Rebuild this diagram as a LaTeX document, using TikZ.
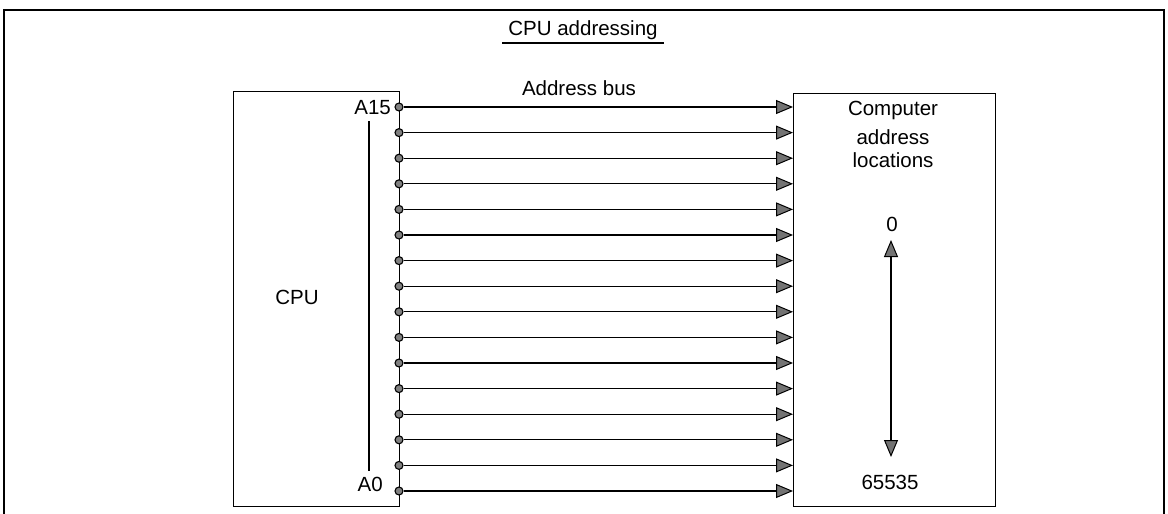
\documentclass[tikz,border=0pt]{standalone}
\usepackage{fontspec}
\setmainfont{Liberation Sans}
\usetikzlibrary{arrows.meta}
\begin{document}
\begin{tikzpicture}[x=1pt,y=-1pt,
  txt/.style={font=\fontsize{20.5}{24}\selectfont, inner sep=0pt},
  box/.style={draw, line width=1.4pt, inner sep=0pt, anchor=north west},
  pinc/.style={circle, draw, line width=1.1pt, fill=black!50, minimum size=8pt, inner sep=0pt},
  tipg/.tip={Triangle[length=17pt,width=14pt,fill=black!55,line width=1pt]},
  bus/.style={line width=1.3pt, -tipg},
  frame/.style={line width=1.6pt}]
\useasboundingbox (0,0) rectangle (1168,514);
% outer frame (open at the bottom)
\draw[frame] (4,514) -- (4,10) -- (1164,10) -- (1164,514);
% title
\node[txt, anchor=base] (title) at (583,35.5) {CPU addressing};
\draw[line width=1.3pt] ([xshift=-6pt,yshift=-7.5pt]title.base west) -- ([xshift=6pt,yshift=-7.5pt]title.base east);
\node[txt, anchor=base] (bus) at (579,95) {Address bus};
% CPU box
\node[box, minimum width=166pt, minimum height=415pt] (cpu) at (233,91) {};
\node[txt, anchor=base] (cpulbl) at (297,304.5) {CPU};
\node[txt, anchor=base east] (a15) at (391,114.5) {A15};
\node[txt, anchor=base east] (a0) at (383,491.5) {A0};
\coordinate (v1) at (369,121);
\coordinate (v2) at (369,471);
\draw[line width=1.3pt] (v1) -- (v2);
% memory box
\node[box, minimum width=202pt, minimum height=413pt] (mem) at (793,93) {};
\node[txt, anchor=base] (l1) at (893,115.5) {Computer};
\node[txt, anchor=base] (l2) at (893,144.5) {address};
\node[txt, anchor=base] (l3) at (893,167) {locations};
\node[txt, anchor=base] (zero) at (892,231.5) {0};
\node[txt, anchor=base] (last) at (890,489.5) {65535};
\coordinate (rtop) at (891,240);
\coordinate (rbot) at (891,457);
\draw[line width=1.4pt, tipg-tipg] (rtop) -- (rbot);
% bus lines
\foreach \i in {0,...,15} {
  \pgfmathsetmacro\yy{491-25.6*\i}
  \node[pinc] (p\i) at (399,\yy) {};
  \coordinate (m\i) at (793,\yy);
  \draw[bus] (p\i) -- (m\i);
}
\end{tikzpicture}
\end{document}
